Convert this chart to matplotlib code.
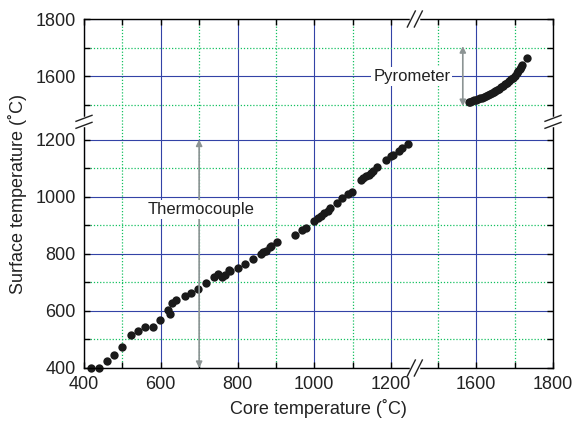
import matplotlib.pyplot as plt
import numpy as np
from matplotlib.ticker import FixedLocator

# thermocouple readings (core, surface)
tc_core = [418, 440, 460, 479, 499, 523, 541, 560, 579, 599, 619, 623, 630, 641,
           662, 680, 698, 719, 739, 749, 760, 767, 777, 781, 801, 819, 841, 860,
           867, 874, 885, 887, 904, 951, 967, 979, 1000, 1009, 1018, 1026, 1035,
           1042, 1059, 1072, 1089, 1098, 1121, 1128, 1135, 1142, 1149, 1154, 1163,
           1188, 1199, 1206, 1220, 1228, 1244]
tc_surf = [400, 400, 425, 446, 475, 517, 531, 545, 545, 567, 602, 589, 627, 639,
           653, 663, 678, 699, 719, 730, 719, 725, 744, 739, 750, 765, 781, 798,
           805, 811, 823, 827, 840, 867, 884, 891, 916, 924, 932, 941, 951,
           959, 979, 994, 1009, 1018, 1057, 1064, 1071, 1076, 1082, 1089, 1104,
           1130, 1141, 1147, 1161, 1169, 1185]

# pyrometer readings
py_core = [1580, 1585, 1590, 1595, 1600, 1605, 1610, 1615, 1620, 1625, 1630, 1635,
           1640, 1645, 1650, 1655, 1660, 1665, 1670, 1675, 1680, 1685, 1690, 1695,
           1700, 1705, 1710, 1713, 1716, 1719, 1732]
py_surf = [1510, 1511, 1513, 1515, 1517, 1519, 1522, 1524, 1527, 1530, 1533, 1536,
           1540, 1544, 1548, 1552, 1556, 1561, 1566, 1571, 1577, 1583, 1589, 1595,
           1602, 1610, 1618, 1625, 1632, 1640, 1662]

major_ticks = [400, 600, 800, 1000, 1200, 1600, 1800]
minor_ticks = [500, 700, 900, 1100, 1500, 1700]

# broken axis: values between BREAK_LO and BREAK_HI are cut out
BREAK_LO, BREAK_HI = 1262, 1440
GAP = BREAK_HI - BREAK_LO


def fwd(v):
    v = np.asarray(v, dtype=float)
    return np.where(v <= BREAK_LO, v, np.where(v >= BREAK_HI, v - GAP, BREAK_LO))


def inv(t):
    t = np.asarray(t, dtype=float)
    return np.where(t <= BREAK_LO, t, t + GAP)


plt.rcParams['font.family'] = ['Liberation Sans', 'DejaVu Sans']

fig = plt.figure(figsize=(5.72, 4.22), dpi=100)
ax = fig.add_axes([84 / 572, 54 / 422, 469 / 572, 349 / 422])

ax.set_xscale('function', functions=(fwd, inv))
ax.set_yscale('function', functions=(fwd, inv))
ax.set_xlim(400, 1800)
ax.set_ylim(400, 1800)

for axis in (ax.xaxis, ax.yaxis):
    axis.set_major_locator(FixedLocator(major_ticks))
    axis.set_minor_locator(FixedLocator(minor_ticks))

ax.set_axisbelow(True)
ax.grid(which='major', color='#3343a6', lw=0.8)
ax.grid(which='minor', color='#14c060', ls=(0, (1, 1.5)), lw=0.9)
ax.tick_params(which='both', direction='in', top=True, right=True,
               length=4, width=1, labelsize=13, pad=6, labelcolor='#222222')
for s in ax.spines.values():
    s.set_linewidth(1)

ax.plot(tc_core, tc_surf, 'o', color='#1a1a1a', ms=6, mew=0, clip_on=False)
ax.plot(py_core, py_surf, 'o', color='#1a1a1a', ms=6, mew=0, clip_on=False)

arrow_kw = dict(arrowstyle='<|-|>', color='#8c9494', lw=1.2, mutation_scale=9,
                shrinkA=0, shrinkB=0)
ax.annotate('', xy=(700, 400), xytext=(700, 1200), arrowprops=arrow_kw)
ax.annotate('', xy=(1565, 1495), xytext=(1565, 1705), arrowprops=arrow_kw)

box = dict(facecolor='white', edgecolor='none', pad=1.5)
ax.text(705, 955, 'Thermocouple', fontsize=12, ha='center', va='center',
        color='#222222', bbox=box)
ax.text(1254, 1600, 'Pyrometer', fontsize=12, ha='center', va='center',
        color='#222222', bbox=box)

ax.set_xlabel('Core temperature (˚C)', fontsize=13, labelpad=4, color='#222222')
ax.set_ylabel('Surface temperature (˚C)', fontsize=13, labelpad=6, color='#222222')

# break marks on the spines
b = float((fwd(BREAK_LO) - 400) / (fwd(1800) - 400))
sx, sy = 4 / 469, 8 / 349
off = 3.5 / 469
for yy in (0, 1):
    ax.plot([b - off, b + off], [yy, yy], color='white', lw=2.5,
            transform=ax.transAxes, clip_on=False, zorder=5)
    for d in (-off, off):
        ax.plot([b + d - sx, b + d + sx], [yy - sy, yy + sy], color='#222222',
                lw=1, transform=ax.transAxes, clip_on=False, zorder=6)
hx, hy = 8 / 469, 3 / 349
offy = 3.5 / 349
for xx in (0, 1):
    ax.plot([xx, xx], [b - offy, b + offy], color='white', lw=2.5,
            transform=ax.transAxes, clip_on=False, zorder=5)
    for d in (-offy, offy):
        ax.plot([xx - hx, xx + hx], [b + d - hy, b + d + hy], color='#222222',
                lw=1, transform=ax.transAxes, clip_on=False, zorder=6)

fig.savefig('out.png', dpi=100)
